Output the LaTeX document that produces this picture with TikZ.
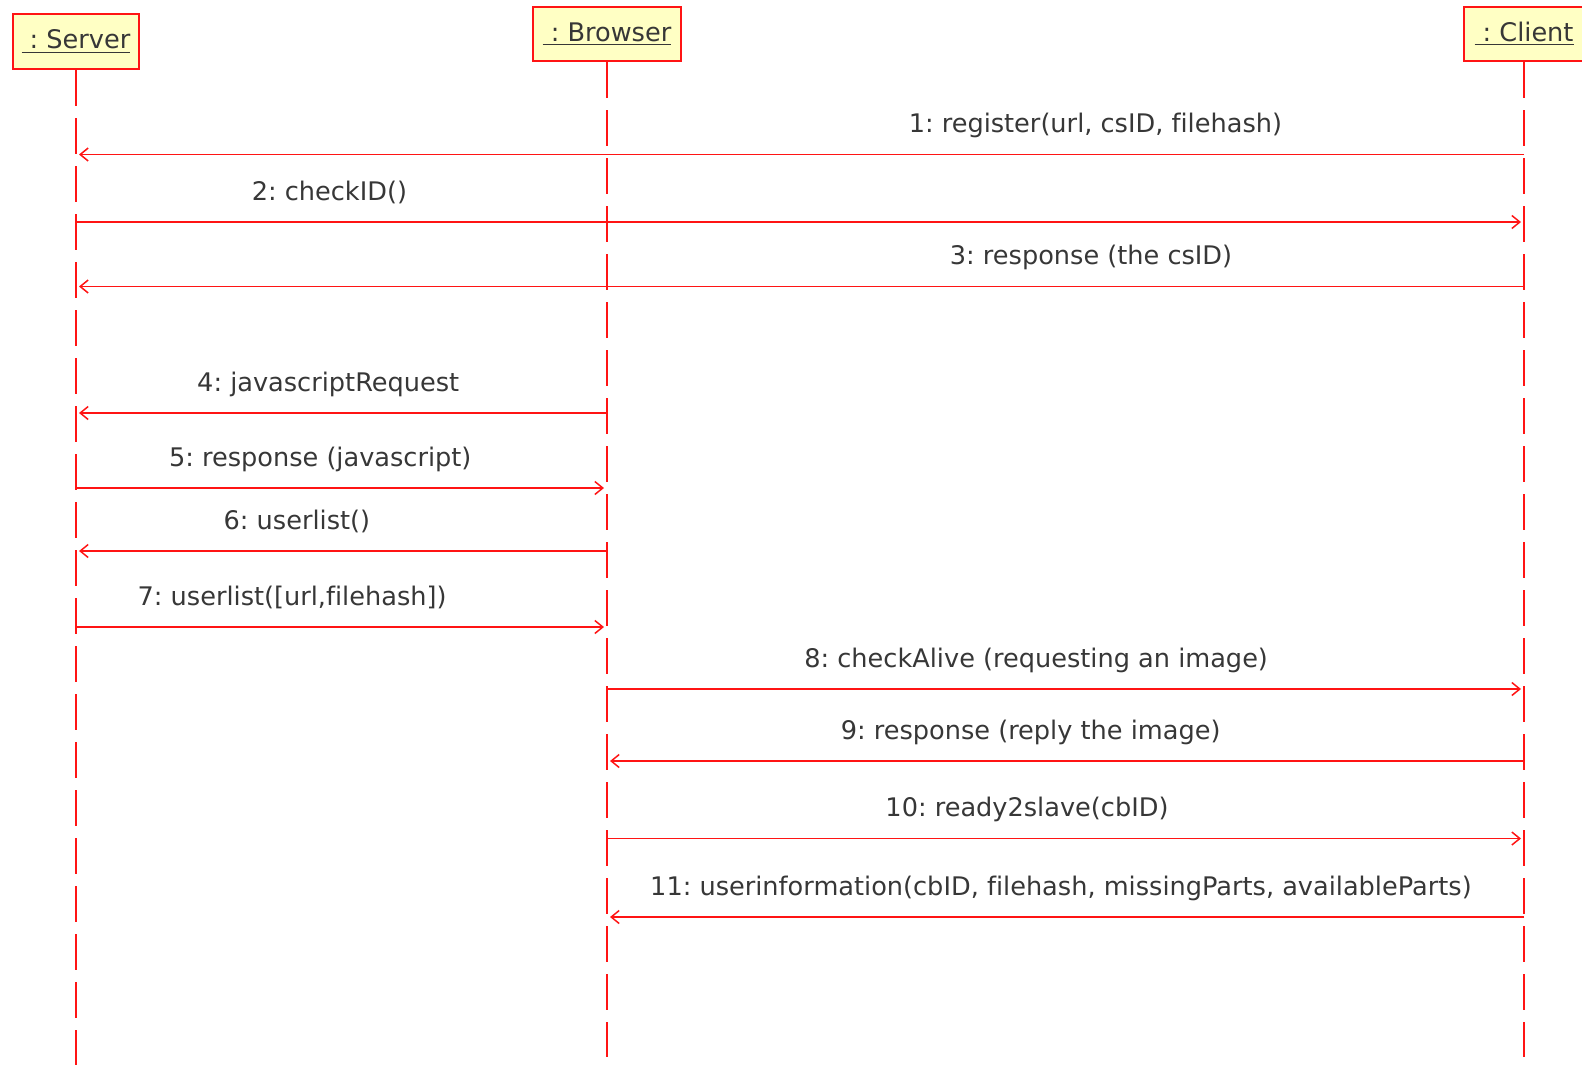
\documentclass[tikz,border=0pt]{standalone}
\usepackage{fontspec}
\setmainfont[Ligatures=NoCommon]{DejaVu Sans}
\usetikzlibrary{arrows.meta}
\definecolor{umlred}{RGB}{255,20,20}
\definecolor{umlfill}{RGB}{255,255,196}
\definecolor{umltext}{RGB}{55,55,55}
\newcommand{\objname}[1]{\underline{\ : #1}}
\frenchspacing

\begin{document}
\begin{tikzpicture}[x=0.5pt,y=-0.5pt,
  objbox/.style={draw=umlred,fill=umlfill,line width=1pt,minimum height=27pt,inner sep=0pt,
    text=umltext,font=\fontsize{12.8}{15}\selectfont},
  lifeline/.style={draw=umlred,line width=1pt,dash pattern=on 18pt off 6pt},
  msg/.style={draw=umlred,line width=0.75pt,-{Straight Barb[length=4pt,width=6.5pt]}},
  msglabel/.style={anchor=base,yshift=11pt,text=umltext,font=\fontsize{12.8}{15}\selectfont}]
\useasboundingbox (0,0) rectangle (1582,1077);
\node[objbox,minimum width=63pt,minimum height=27.5pt] (srv) at (76,41.5) {\objname{Server}};
\node[objbox,minimum width=74pt] (brw) at (607,34) {\objname{Browser}};
\node[objbox,minimum width=60pt] (cli) at (1524,34) {\objname{Client}};
\coordinate (srvend) at (76,1065);
\coordinate (brwend) at (607,1057);
\coordinate (cliend) at (1524,1057);
\draw[lifeline] (srv.south) -- (srvend);
\draw[lifeline] (brw.south) -- (brwend);
\draw[lifeline] (cli.south) -- (cliend);
\foreach \from/\to/\y/\p/\txt in {
  cli/srv/154.5/0.296/{1: register(url, csID, filehash)},
  srv/cli/222/0.175/{2: checkID()},
  cli/srv/286.5/0.299/{3: response (the csID)},
  brw/srv/413/0.525/{4: javascriptRequest},
  srv/brw/488/0.460/{5: response (javascript)},
  brw/srv/551/0.584/{6: userlist()},
  srv/brw/627/0.407/{7: userlist([url,filehash])},
  brw/cli/689/0.468/{8: checkAlive (requesting an image)},
  cli/brw/761/0.538/{9: response (reply the image)},
  brw/cli/838.5/0.458/{10: ready2slave(cbID)},
  cli/brw/917/0.505/{11: userinformation(cbID, filehash, missingParts, availableParts)}}
  \draw[msg,shorten >=1.5pt] (\from |- 0,\y) -- node[pos=\p,msglabel] {\txt} (\to |- 0,\y);
\end{tikzpicture}
\end{document}
